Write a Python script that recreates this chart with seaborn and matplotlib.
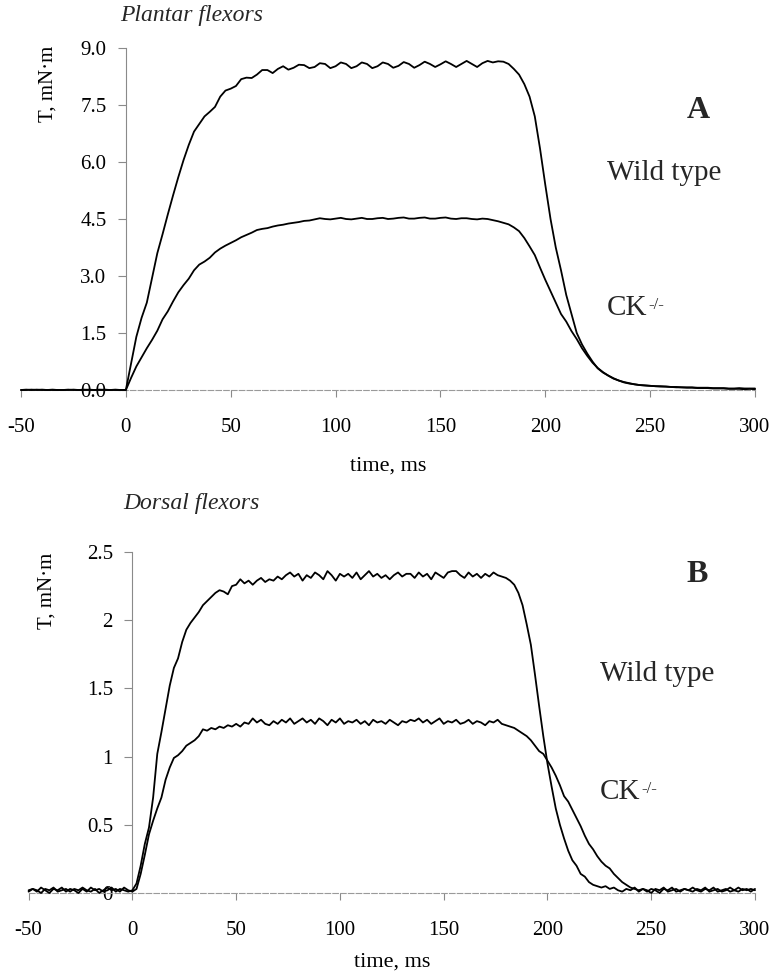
import numpy as np
import pandas as pd
import matplotlib
matplotlib.use("Agg")
import matplotlib.pyplot as plt
import seaborn as sns

sns.set_theme(style="white")
plt.rcParams["font.family"] = ["Liberation Serif", "DejaVu Serif"]

# ---------------- data ----------------
# Panel A: plantar flexors, sampled every 2.5 ms from -50 to 300 ms
time_a = np.arange(-50, 300.01, 2.5)
wt_a = [
    0.00, 0.01, 0.00, 0.01,   # -50
    0.00, 0.00, 0.01, 0.00,   # -40
    0.00, 0.01, 0.00, 0.00,   # -30
    0.01, 0.00, 0.00, 0.01,   # -20
    0.00, 0.00, 0.01, 0.00,   # -10
    0.00, 0.70, 1.40, 1.90,   # 0
    2.30, 2.95, 3.60, 4.10,   # 10
    4.62, 5.12, 5.60, 6.05,   # 20
    6.45, 6.80, 7.00, 7.20,   # 30
    7.32, 7.45, 7.72, 7.88,   # 40
    7.93, 8.00, 8.18, 8.22,   # 50
    8.21, 8.30, 8.42, 8.42,   # 60
    8.34, 8.45, 8.52, 8.43,   # 70
    8.48, 8.56, 8.55, 8.47,   # 80
    8.50, 8.60, 8.58, 8.47,   # 90
    8.52, 8.62, 8.58, 8.47,   # 100
    8.52, 8.62, 8.58, 8.47,   # 110
    8.52, 8.62, 8.58, 8.48,   # 120
    8.53, 8.63, 8.58, 8.48,   # 130
    8.55, 8.64, 8.58, 8.50,   # 140
    8.57, 8.65, 8.58, 8.50,   # 150
    8.58, 8.66, 8.58, 8.50,   # 160
    8.60, 8.66, 8.62, 8.65,   # 170
    8.64, 8.58, 8.45, 8.30,   # 180
    8.05, 7.72, 7.20, 6.35,   # 190
    5.40, 4.50, 3.75, 3.15,   # 200
    2.50, 2.00, 1.50, 1.20,   # 210
    0.96, 0.75, 0.57, 0.46,   # 220
    0.38, 0.30, 0.25, 0.20,   # 230
    0.17, 0.15, 0.13, 0.12,   # 240
    0.11, 0.10, 0.10, 0.09,   # 250
    0.08, 0.08, 0.07, 0.07,   # 260
    0.07, 0.06, 0.06, 0.06,   # 270
    0.05, 0.05, 0.05, 0.04,   # 280
    0.04, 0.05, 0.04, 0.04,   # 290
    0.04,                     # 300
]
ck_a = [
    0.00, 0.00, 0.01, 0.00,   # -50
    0.01, 0.00, 0.00, 0.00,   # -40
    0.00, 0.00, 0.01, 0.00,   # -30
    0.00, 0.01, 0.00, 0.00,   # -20
    0.01, 0.00, 0.00, 0.00,   # -10
    0.00, 0.32, 0.62, 0.86,   # 0
    1.10, 1.32, 1.56, 1.86,   # 10
    2.07, 2.33, 2.57, 2.76,   # 20
    2.93, 3.15, 3.30, 3.38,   # 30
    3.48, 3.62, 3.72, 3.80,   # 40
    3.87, 3.94, 4.02, 4.08,   # 50
    4.14, 4.21, 4.24, 4.26,   # 60
    4.30, 4.33, 4.35, 4.38,   # 70
    4.40, 4.42, 4.45, 4.46,   # 80
    4.49, 4.52, 4.50, 4.49,   # 90
    4.51, 4.53, 4.50, 4.49,   # 100
    4.51, 4.53, 4.50, 4.50,   # 110
    4.52, 4.53, 4.50, 4.51,   # 120
    4.53, 4.54, 4.51, 4.51,   # 130
    4.53, 4.54, 4.51, 4.51,   # 140
    4.53, 4.54, 4.51, 4.50,   # 150
    4.52, 4.52, 4.50, 4.49,   # 160
    4.51, 4.50, 4.47, 4.44,   # 170
    4.40, 4.36, 4.28, 4.18,   # 180
    4.00, 3.78, 3.55, 3.22,   # 190
    2.90, 2.60, 2.30, 2.00,   # 200
    1.80, 1.55, 1.34, 1.10,   # 210
    0.90, 0.72, 0.58, 0.47,   # 220
    0.38, 0.31, 0.25, 0.21,   # 230
    0.18, 0.15, 0.13, 0.12,   # 240
    0.11, 0.10, 0.09, 0.09,   # 250
    0.08, 0.07, 0.07, 0.06,   # 260
    0.06, 0.05, 0.05, 0.05,   # 270
    0.04, 0.04, 0.04, 0.03,   # 280
    0.03, 0.03, 0.02, 0.03,   # 290
    0.02,                     # 300
]

# Panel B: dorsal flexors, sampled every 2 ms from -50 to 300 ms
time_b = np.arange(-50, 300.01, 2)
wt_b = [
    0.02, 0.03, 0.01, 0.04, 0.02,   # -50
    0.00, 0.03, 0.02, 0.04, 0.01,   # -40
    0.03, 0.02, 0.00, 0.03, 0.01,   # -30
    0.04, 0.02, 0.03, 0.01, 0.02,   # -20
    0.04, 0.01, 0.03, 0.02, 0.01,   # -10
    0.02, 0.07, 0.20, 0.36, 0.48,   # 0
    0.70, 1.02, 1.18, 1.35, 1.52,   # 10
    1.65, 1.72, 1.84, 1.93, 1.98,   # 20
    2.02, 2.06, 2.11, 2.14, 2.17,   # 30
    2.20, 2.22, 2.21, 2.19, 2.25,   # 40
    2.26, 2.30, 2.27, 2.29, 2.26,   # 50
    2.29, 2.31, 2.28, 2.30, 2.29,   # 60
    2.32, 2.30, 2.33, 2.35, 2.32,   # 70
    2.34, 2.29, 2.33, 2.31, 2.35,   # 80
    2.33, 2.30, 2.36, 2.33, 2.29,   # 90
    2.34, 2.32, 2.34, 2.31, 2.35,   # 100
    2.30, 2.33, 2.36, 2.32, 2.34,   # 110
    2.31, 2.33, 2.30, 2.33, 2.35,   # 120
    2.32, 2.34, 2.34, 2.31, 2.35,   # 130
    2.32, 2.34, 2.30, 2.35, 2.33,   # 140
    2.31, 2.35, 2.36, 2.36, 2.33,   # 150
    2.31, 2.35, 2.32, 2.34, 2.31,   # 160
    2.34, 2.32, 2.35, 2.33, 2.32,   # 170
    2.31, 2.29, 2.26, 2.20, 2.11,   # 180
    1.97, 1.82, 1.60, 1.37, 1.15,   # 190
    0.95, 0.78, 0.62, 0.50, 0.40,   # 200
    0.31, 0.24, 0.20, 0.14, 0.12,   # 210
    0.08, 0.06, 0.05, 0.04, 0.05,   # 220
    0.03, 0.04, 0.02, 0.01, 0.03,   # 230
    0.02, 0.04, 0.01, 0.03, 0.02,   # 240
    0.00, 0.03, 0.02, 0.04, 0.01,   # 250
    0.02, 0.03, 0.01, 0.03, 0.02,   # 260
    0.04, 0.02, 0.01, 0.03, 0.02,   # 270
    0.04, 0.01, 0.02, 0.03, 0.01,   # 280
    0.02, 0.04, 0.02, 0.03, 0.01,   # 290
    0.03,                           # 300
]
ck_b = [
    0.01, 0.03, 0.02, 0.00, 0.03,   # -50
    0.02, 0.04, 0.01, 0.02, 0.03,   # -40
    0.01, 0.03, 0.02, 0.04, 0.02,   # -30
    0.01, 0.03, 0.00, 0.02, 0.04,   # -20
    0.02, 0.03, 0.01, 0.04, 0.02,   # -10
    0.01, 0.03, 0.14, 0.28, 0.43,   # 0
    0.53, 0.62, 0.70, 0.83, 0.92,   # 10
    0.99, 1.01, 1.04, 1.08, 1.10,   # 20
    1.12, 1.15, 1.20, 1.19, 1.21,   # 30
    1.20, 1.22, 1.21, 1.23, 1.22,   # 40
    1.24, 1.22, 1.25, 1.24, 1.28,   # 50
    1.25, 1.27, 1.24, 1.23, 1.26,   # 60
    1.24, 1.27, 1.25, 1.28, 1.24,   # 70
    1.26, 1.28, 1.25, 1.27, 1.24,   # 80
    1.28, 1.26, 1.23, 1.27, 1.25,   # 90
    1.28, 1.24, 1.26, 1.25, 1.27,   # 100
    1.24, 1.26, 1.23, 1.27, 1.25,   # 110
    1.26, 1.24, 1.27, 1.25, 1.23,   # 120
    1.26, 1.25, 1.27, 1.26, 1.28,   # 130
    1.25, 1.27, 1.24, 1.26, 1.28,   # 140
    1.24, 1.26, 1.25, 1.27, 1.24,   # 150
    1.25, 1.27, 1.24, 1.26, 1.25,   # 160
    1.23, 1.26, 1.25, 1.27, 1.24,   # 170
    1.23, 1.22, 1.21, 1.19, 1.17,   # 180
    1.15, 1.12, 1.08, 1.04, 1.02,   # 190
    0.97, 0.92, 0.86, 0.79, 0.71,   # 200
    0.67, 0.61, 0.55, 0.49, 0.42,   # 210
    0.36, 0.32, 0.27, 0.23, 0.20,   # 220
    0.18, 0.14, 0.11, 0.08, 0.06,   # 230
    0.04, 0.03, 0.02, 0.03, 0.01,   # 240
    0.03, 0.02, 0.00, 0.03, 0.02,   # 250
    0.04, 0.01, 0.02, 0.03, 0.02,   # 260
    0.01, 0.03, 0.02, 0.04, 0.01,   # 270
    0.02, 0.03, 0.01, 0.02, 0.04,   # 280
    0.02, 0.01, 0.03, 0.02, 0.03,   # 290
    0.02,                           # 300
]

x_ticks = [-50, 0, 50, 100, 150, 200, 250, 300]
y_ticks_a = [0.0, 1.5, 3.0, 4.5, 6.0, 7.5, 9.0]
y_labels_a = ["0.0", "1.5", "3.0", "4.5", "6.0", "7.5", "9.0"]
y_ticks_b = [0, 0.5, 1, 1.5, 2, 2.5]
y_labels_b = ["0", "0.5", "1", "1.5", "2", "2.5"]
groups = ["Wild type", "CK-/-"]

# ---------------- figure ----------------
W, H = 773, 976
fig = plt.figure(figsize=(W / 100, H / 100), dpi=100)


def px_axes(left, right, top, bottom):
    return fig.add_axes([left / W, 1 - bottom / H, (right - left) / W, (bottom - top) / H])


axA = px_axes(21, 755, 48, 390)
axB = px_axes(28.6, 755, 552, 893)


def draw_panel(ax, t, wt, ck, yticks, ylabels, ymax, ylabel_xy, xlabel_y):
    n = len(t)
    df = pd.DataFrame({
        "time": np.concatenate([t, t]),
        "T": np.asarray(wt + ck, dtype=float),
        "group": [groups[0]] * n + [groups[1]] * n,
    })
    sns.lineplot(data=df, x="time", y="T", hue="group",
                 palette={groups[0]: "black", groups[1]: "black"},
                 estimator=None, sort=False, legend=False, linewidth=1.3, ax=ax)
    for ln in ax.lines:
        ln.set_clip_on(False)
        ln.set_zorder(3)
    ax.set_xlim(-50, 300)
    ax.set_ylim(0, ymax)
    ax.set_facecolor("none")
    for s in ["top", "right"]:
        ax.spines[s].set_visible(False)
    ax.spines["left"].set_position(("data", 0))
    ax.spines["left"].set_color("#8a8a8a")
    ax.spines["left"].set_linewidth(0.8)
    ax.spines["bottom"].set_color("#9a9a9a")
    ax.spines["bottom"].set_linewidth(0.8)
    ax.spines["bottom"].set_linestyle((0, (5, 2)))
    ax.set_xticks(x_ticks)
    ax.set_xticklabels([str(v) for v in x_ticks])
    ax.set_yticks(yticks)
    ax.set_yticklabels(ylabels)
    ax.tick_params(axis="x", bottom=True, direction="out", length=5, width=0.8,
                   color="#8a8a8a", pad=15, labelsize=15, labelcolor="black")
    ax.tick_params(axis="y", left=True, direction="out", length=6, width=0.8,
                   color="#8a8a8a", pad=8, labelsize=15, labelcolor="black")
    ax.set_xlabel("time, ms", fontsize=16, color="black")
    ax.xaxis.set_label_coords(0.5, xlabel_y)
    ax.set_ylabel("T, mN·m", fontsize=15, color="black")
    ax.yaxis.set_label_coords(*ylabel_xy)
    ax.grid(False)


draw_panel(axA, time_a, wt_a, ck_a, y_ticks_a, y_labels_a, 9.0, (0.05, 0.895), -0.195)
draw_panel(axB, time_b, wt_b, ck_b, y_ticks_b, y_labels_b, 2.5, (0.039, 0.886), -0.175)


def ftext(x, y, s, **kw):
    return fig.text(x / W, 1 - y / H, s, **kw)


# panel titles
ftext(120, 15, "Plantar flexors", fontsize=17, style="italic", va="center", ha="left")
ftext(123, 504, "Dorsal flexors", fontsize=17, style="italic", va="center", ha="left")

# panel letters and curve labels
ftext(698, 111, "A", fontsize=23, fontweight="bold", va="center", ha="center")
ftext(607, 173, "Wild type", fontsize=21, va="center", ha="left")
ck1 = ftext(607, 308, "CK", fontsize=21, va="center", ha="left")
ftext(697, 575, "B", fontsize=23, fontweight="bold", va="center", ha="center")
ftext(600, 674, "Wild type", fontsize=21, va="center", ha="left")
ck2 = ftext(600, 792, "CK", fontsize=21, va="center", ha="left")

# superscript "-/-" right after each "CK"
for ck in (ck1, ck2):
    axA.annotate("-/-", xy=(1.0, 0.93), xycoords=ck, xytext=(0.5, 0),
                 textcoords="offset points", fontsize=12, va="top", ha="left",
                 annotation_clip=False)

fig.savefig("out.png", dpi=100, facecolor="white")
